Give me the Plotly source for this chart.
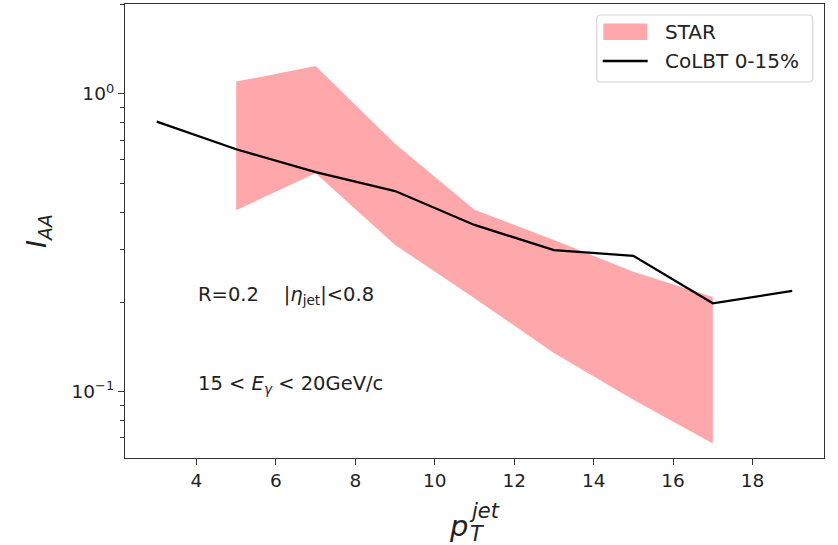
import plotly.graph_objects as go

# STAR measurement band (lower / upper edges)
star_pt = [5, 7, 9, 11, 13, 15, 17]
star_hi = [1.10, 1.24, 0.68, 0.408, 0.323, 0.253, 0.208]
star_lo = [0.407, 0.542, 0.311, 0.206, 0.135, 0.094, 0.067]

# CoLBT 0-15% prediction
colbt_pt = [3, 5, 7, 9, 11, 13, 15, 17, 19]
colbt_iaa = [0.807, 0.652, 0.546, 0.472, 0.363, 0.299, 0.286, 0.198, 0.218]

# y-axis ticks
major_vals = [0.1, 1.0]
major_text = ["10<sup>\u22121</sup>", "10<sup>0</sup>"]
minor_vals = [0.07, 0.08, 0.09, 0.2, 0.3, 0.4, 0.5, 0.6, 0.7, 0.8, 0.9, 2.0]

legend_labels = ["STAR", "CoLBT 0-15%"]

W, H = 838, 545
L, R, T, B = 125, 14, 4, 87
FONT = "DejaVu Sans"
AXC = "#333333"
TXT = "#222222"
BAND = "rgb(255,168,172)"


def px(xp, yp):
    """pixel position -> paper coordinates of the plotting area"""
    return (xp - L) / (W - L - R), (H - B - yp) / (H - T - B)


fig = go.Figure()

fig.add_trace(go.Scatter(
    x=star_pt + star_pt[::-1],
    y=star_hi + star_lo[::-1],
    fill="toself",
    fillcolor=BAND,
    line=dict(width=0, color=BAND),
    mode="lines",
    name=legend_labels[0],
    hoverinfo="skip",
))

fig.add_trace(go.Scatter(
    x=colbt_pt, y=colbt_iaa,
    mode="lines",
    line=dict(color="black", width=2.3),
    name=legend_labels[1],
))

axis_common = dict(
    showgrid=False, zeroline=False, showline=True, mirror=True,
    linecolor=AXC, linewidth=1.3,
    ticks="outside", ticklen=6, tickwidth=1.3, tickcolor=AXC,
    tickfont=dict(family=FONT, size=18.5, color=TXT),
)

fig.update_xaxes(
    range=[2.2, 19.8],
    tickvals=[4, 6, 8, 10, 12, 14, 16, 18],
    **axis_common,
)
fig.update_yaxes(
    type="log",
    range=[-1.2227, 0.302],
    tickvals=major_vals, ticktext=major_text,
    minor=dict(tickvals=minor_vals, ticks="outside", ticklen=3.5,
               tickwidth=1.1, tickcolor=AXC),
    **axis_common,
)

annotations = []
shapes = []

# text labels inside the plot
annotations.append(dict(
    x=4.0, y=-0.6785, xref="x", yref="y", xanchor="left", yanchor="middle",
    text="R=0.2\u00a0\u00a0\u00a0\u00a0|<i>\u03b7</i><sub>jet</sub>|&lt;0.8",
    showarrow=False, font=dict(family=FONT, size=19.5, color=TXT),
))
annotations.append(dict(
    x=4.0, y=-0.975, xref="x", yref="y", xanchor="left", yanchor="middle",
    text="15 &lt; <i>E</i><sub><i>\u03b3</i></sub> &lt; 20GeV/c",
    showarrow=False, font=dict(family=FONT, size=19.5, color=TXT),
))

# y-axis title I_AA
ax, ay = px(38, 231)
annotations.append(dict(
    x=ax, y=ay, xref="paper", yref="paper", xanchor="center", yanchor="middle",
    text="<i>I</i><sub><i>AA</i></sub>", textangle=-90, showarrow=False,
    font=dict(family=FONT, size=27, color=TXT),
))

# x-axis title p_T^jet
ax, ay = px(458, 526)
annotations.append(dict(
    x=ax, y=ay, xref="paper", yref="paper", xanchor="center", yanchor="middle",
    text="<i>p</i>", showarrow=False,
    font=dict(family=FONT, size=29, color=TXT),
))
ax, ay = px(467, 511)
annotations.append(dict(
    x=ax, y=ay, xref="paper", yref="paper", xanchor="left", yanchor="middle",
    text="<i>jet</i>", showarrow=False,
    font=dict(family=FONT, size=21, color=TXT),
))
ax, ay = px(468, 534)
annotations.append(dict(
    x=ax, y=ay, xref="paper", yref="paper", xanchor="left", yanchor="middle",
    text="<i>T</i>", showarrow=False,
    font=dict(family=FONT, size=21, color=TXT),
))

# legend box (rounded frame, patch, line sample, labels)
x0, y0 = px(596.7, 82)
x1, y1 = px(812.7, 15)
r_x = px(L + 4, 0)[0] - px(L, 0)[0]
r_y = px(0, H - B - 4)[1] - px(0, H - B)[1]
path = (
    f"M {x0 + r_x},{y0} L {x1 - r_x},{y0} Q {x1},{y0} {x1},{y0 + r_y} "
    f"L {x1},{y1 - r_y} Q {x1},{y1} {x1 - r_x},{y1} "
    f"L {x0 + r_x},{y1} Q {x0},{y1} {x0},{y1 - r_y} "
    f"L {x0},{y0 + r_y} Q {x0},{y0} {x0 + r_x},{y0} Z"
)
shapes.append(dict(type="path", xref="paper", yref="paper", path=path,
                   fillcolor="rgba(255,255,255,0.8)",
                   line=dict(color="#d6d6d6", width=1.2), layer="above"))
p0x, p0y = px(603.3, 40)
p1x, p1y = px(647.3, 23.5)
shapes.append(dict(type="rect", xref="paper", yref="paper",
                   x0=p0x, y0=p0y, x1=p1x, y1=p1y,
                   fillcolor=BAND, line=dict(width=0), layer="above"))
l0x, l0y = px(602.7, 61)
l1x, _ = px(647.7, 61)
shapes.append(dict(type="line", xref="paper", yref="paper",
                   x0=l0x, y0=l0y, x1=l1x, y1=l0y,
                   line=dict(color="black", width=2.3), layer="above"))
for lab, yy in zip(legend_labels, [32, 61]):
    tx, ty = px(663, yy)
    annotations.append(dict(
        x=tx, y=ty, xref="paper", yref="paper", xanchor="left", yanchor="middle",
        text=lab, showarrow=False,
        font=dict(family=FONT, size=20, color=TXT),
    ))

fig.update_layout(
    width=W, height=H,
    margin=dict(l=L, r=R, t=T, b=B),
    plot_bgcolor="white", paper_bgcolor="white",
    font=dict(family=FONT, color=TXT),
    showlegend=False,
    annotations=annotations,
    shapes=shapes,
)

fig.write_html("out.html")
